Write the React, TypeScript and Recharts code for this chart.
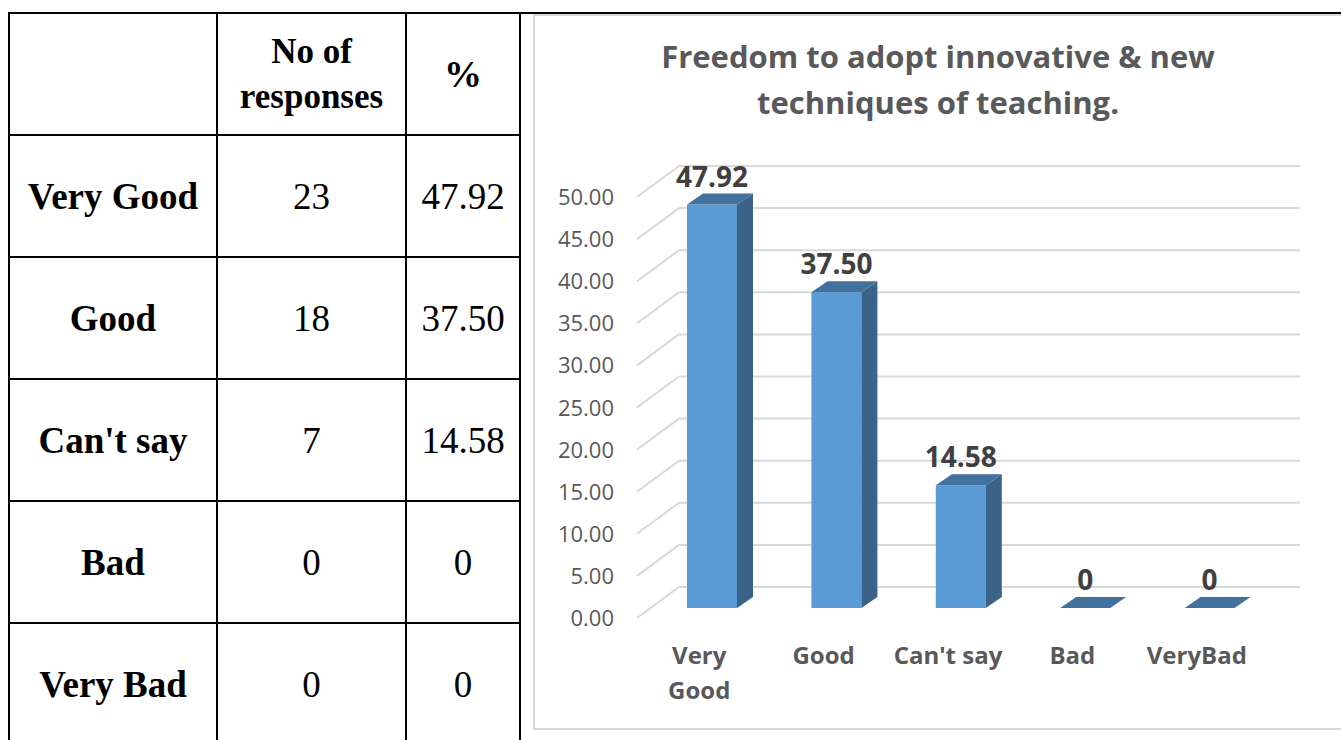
import React from "react";
import { BarChart, Bar, XAxis, YAxis, CartesianGrid, LabelList } from "recharts";

const categories = ["Very Good", "Good", "Can't say", "Bad", "VeryBad"];
const responses = [23, 18, 7, 0, 0];
const percents = [47.92, 37.5, 14.58, 0, 0];
const percentLabels = ["47.92", "37.50", "14.58", "0", "0"];
const xTickLines = [["Very", "Good"], ["Good"], ["Can't say"], ["Bad"], ["VeryBad"]];
const yTicks = [0, 5, 10, 15, 20, 25, 30, 35, 40, 45, 50];

const data = categories.map((name, i) => ({ name, pct: percents[i] }));

// 3d offsets: back wall vs. bar front plane, and bar depth
const WALL_DX = 29;
const WALL_DY = -21;
const BAR_DX = 16;
const BAR_DY = -11;

const FONT = "'Open Sans', sans-serif";
const GREY = "#595959";

function Bar3D(props: any) {
  const { x, y, width, height } = props;
  const h = Math.max(0, height);
  return (
    <g>
      {h > 0 && <rect x={x} y={y} width={width} height={h} fill="#5B9BD5" />}
      {h > 0 && (
        <polygon
          points={`${x + width},${y} ${x + width + BAR_DX},${y + BAR_DY} ${x + width + BAR_DX},${y + h + BAR_DY} ${x + width},${y + h}`}
          fill="#3A6387"
        />
      )}
      <polygon
        points={`${x},${y} ${x + BAR_DX},${y + BAR_DY} ${x + width + BAR_DX},${y + BAR_DY} ${x + width},${y}`}
        fill="#41719C"
      />
    </g>
  );
}

function YTick(props: any) {
  const { x, y, payload } = props;
  return (
    <g>
      <line
        x1={x - 13}
        y1={y + 10}
        x2={x + WALL_DX}
        y2={y + WALL_DY}
        stroke="#D9D9D9"
        strokeWidth={2}
      />
      <text x={x - 36} y={y + 18} textAnchor="end" fontFamily={FONT} fontSize={22} fill={GREY}>
        {Number(payload.value).toFixed(2)}
      </text>
    </g>
  );
}

function XTick(props: any) {
  const { x, y, payload } = props;
  const lines = xTickLines[payload.index] || [String(payload.value)];
  return (
    <text x={x - 13} y={y + 56} textAnchor="middle" fontFamily={FONT} fontSize={24} fontWeight="bold" fill={GREY}>
      {lines.map((l, i) => (
        <tspan key={i} x={x - 13} dy={i === 0 ? 0 : 35}>
          {l}
        </tspan>
      ))}
    </text>
  );
}

function ValueLabel(props: any) {
  const { x, y, width, index } = props;
  return (
    <text x={x + width / 2} y={y - 18} textAnchor="middle" fontFamily={FONT} fontSize={28} fontWeight="bold" fill="#404040">
      {percentLabels[index]}
    </text>
  );
}

const cellStyle: React.CSSProperties = {
  border: "2px solid #000",
  textAlign: "center",
  verticalAlign: "middle",
  padding: 0,
  height: 120,
};

export default function App() {
  return (
    <div style={{ position: "absolute", left: 0, top: 0, width: 1341, height: 740, overflow: "hidden", background: "#fff" }}>
      {/* top rule spanning across */}
      <div style={{ position: "absolute", left: 8, top: 12, width: 1341, height: 2, background: "#000" }} />

      <table
        style={{
          position: "absolute",
          left: 8,
          top: 12,
          borderCollapse: "collapse",
          tableLayout: "fixed",
          width: 513,
          fontFamily: "'Liberation Serif', 'Times New Roman', serif",
          color: "#000",
        }}
      >
        <colgroup>
          <col style={{ width: 208 }} />
          <col style={{ width: 189 }} />
          <col style={{ width: 114 }} />
        </colgroup>
        <tbody>
          <tr>
            <td style={cellStyle}></td>
            <td style={{ ...cellStyle, fontWeight: "bold", fontSize: 35, lineHeight: "45px" }}>
              No of
              <br />
              responses
            </td>
            <td style={{ ...cellStyle, fontWeight: "bold", fontSize: 38 }}>%</td>
          </tr>
          {categories.map((c, i) => (
            <tr key={c}>
              <td style={{ ...cellStyle, fontWeight: "bold", fontSize: 37 }}>{c === "VeryBad" ? "Very Bad" : c}</td>
              <td style={{ ...cellStyle, fontSize: 37 }}>{responses[i]}</td>
              <td style={{ ...cellStyle, fontSize: 37 }}>{percentLabels[i]}</td>
            </tr>
          ))}
        </tbody>
      </table>

      {/* chart frame */}
      <div
        style={{
          position: "absolute",
          left: 533,
          top: 14,
          width: 830,
          height: 716,
          border: "2px solid #D9D9D9",
          boxSizing: "border-box",
        }}
      />

      <div
        style={{
          position: "absolute",
          left: 588,
          top: 33,
          width: 700,
          textAlign: "center",
          fontFamily: FONT,
          fontWeight: "bold",
          fontSize: 31,
          lineHeight: "46px",
          color: GREY,
        }}
      >
        Freedom to adopt innovative &amp; new
        <br />
        techniques of teaching.
      </div>

      <div style={{ position: "absolute", left: 533, top: 14 }}>
        <BarChart
          width={808}
          height={716}
          data={data}
          margin={{ top: 173, right: 69, bottom: 62, left: 57 }}
          barSize={50}
        >
          <CartesianGrid
            vertical={false}
            horizontal={(p: any) => (
              <line
                key={`g-${p.y1}`}
                x1={p.x1 + WALL_DX}
                x2={p.x2 + WALL_DX - 1}
                y1={p.y1 + WALL_DY}
                y2={p.y2 + WALL_DY}
                stroke="#D9D9D9"
                strokeWidth={2}
              />
            )}
          />
          <XAxis
            dataKey="name"
            height={60}
            axisLine={false}
            tickLine={false}
            tickSize={0}
            tickMargin={0}
            interval={0}
            tick={<XTick />}
          />
          <YAxis
            width={60}
            domain={[0, 50]}
            ticks={yTicks}
            interval={0}
            axisLine={false}
            tickLine={false}
            tickSize={0}
            tickMargin={0}
            tick={<YTick />}
          />
          <Bar dataKey="pct" shape={<Bar3D />} isAnimationActive={false}>
            <LabelList dataKey="pct" content={<ValueLabel />} />
          </Bar>
        </BarChart>
      </div>
    </div>
  );
}
